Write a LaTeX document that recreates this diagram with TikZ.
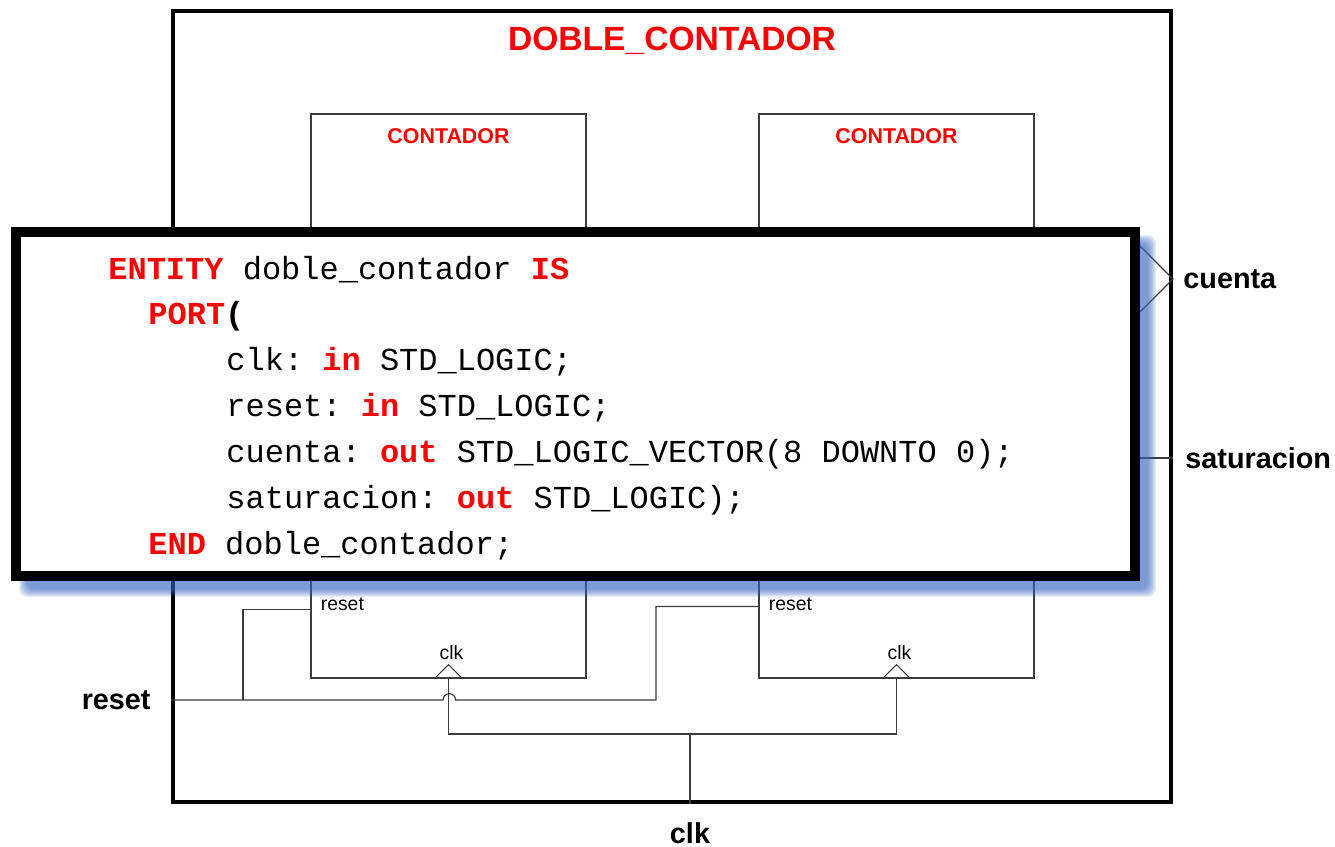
\documentclass[tikz,border=0pt]{standalone}
\usepackage{fontspec}
\setmainfont{Liberation Sans}
\setmonofont{Liberation Mono}
\usetikzlibrary{positioning,calc,fit}
\definecolor{shadowblue}{RGB}{55,101,193}
\definecolor{wiregray}{RGB}{60,60,60}
\newcommand{\kw}[1]{\textcolor{red}{\bfseries #1}}

\begin{document}
\begin{tikzpicture}[x=0.5pt,y=-0.5pt,
  wire/.style={draw=wiregray,line width=0.6pt},
  cnt/.style={draw=wiregray,line width=0.6pt,minimum width=137.5pt,minimum height=282pt,inner sep=0},
  cntlbl/.style={text=red,font=\bfseries\fontsize{10.7}{12}\selectfont,inner sep=0},
  pinlbl/.style={font=\fontsize{9.7}{11}\selectfont,inner sep=0},
  port/.style={font=\bfseries\fontsize{14.4}{16}\selectfont,inner sep=0},
  codeline/.style={anchor=base west,inner sep=0,font=\ttfamily\fontsize{16}{18}\selectfont}]
\useasboundingbox (0,0) rectangle (1335,847);

% entity box
\node[draw,line width=2pt,minimum width=499pt,minimum height=395.5pt,inner sep=0] (top) at (672,406.5) {};
\node[text=red,font=\bfseries\fontsize{16.8}{20}\selectfont,inner sep=0] (title) at (672,41) {DOBLE\_CONTADOR};

% the two counters
\node[cnt] (cntA) at (448.5,396) {};
\node[cnt] (cntB) at (896.5,396) {};
\foreach \c in {cntA,cntB}{
  \node[cntlbl] at ($(\c.north)+(0,23)$) {CONTADOR};
  \node[pinlbl,anchor=west] at ($(\c.north west)+(10,491)$) {reset};
  \node[pinlbl] at ($(\c.south)+(3,-26)$) {clk};
  \draw[wire] ($(\c.south)+(-14,0)$) -- ($(\c.south)+(0,-14)$) -- ($(\c.south)+(14,0)$);
}

% ports
\coordinate (rstA) at ($(cntA.north west)+(0,496)$);
\coordinate (rstB) at ($(cntB.north west)+(0,493)$);
\coordinate (rstin) at (top.west |- 0,700);
\coordinate (rstfork) at (243,700);
\coordinate (hop) at (443,700);
\coordinate (clkin) at (top.south -| 690,0);
\coordinate (clkfork) at (690,734);
\coordinate (cuentaout) at (top.east |- 0,279);
\coordinate (satout) at (top.east |- 0,458);

% reset net
\draw[wire] (rstin) -- (hop) arc[start angle=180,end angle=0,radius=3.15pt] -- (656,700) |- (rstB);
\draw[wire] (rstfork) |- (rstA);
% clk net
\draw[wire] (clkin) -- (clkfork);
\draw[wire] (cntA.south) |- (clkfork) -| (cntB.south);
% outputs
\draw[wire] ($(cuentaout)+(-40,-40)$) -- (cuentaout) -- ($(cuentaout)+(-40,40)$);
\draw[wire] ($(satout)+(-40,0)$) -- (satout);

\node[port,left=10pt of rstin] {reset};
\node[port,below=9pt of clkin] {clk};
\node[port,right=5pt of cuentaout] {cuenta};
\node[port,right=6pt of satout] {saturacion};

% code box with blurred shadow
\coordinate (codeNW) at (16,232);
\coordinate (codeSE) at (1135,576);
\foreach \r in {0,...,8}
  \fill[shadowblue,opacity=.11,rounded corners=4pt] ($(codeNW)+(11-\r,11-\r)$) rectangle ($(codeSE)+(13+\r,13+\r)$);
\node[draw,line width=5pt,fill=white,inner sep=0,fit=(codeNW)(codeSE)] (code) {};

\node[codeline] (lnA) at (108,279) {\kw{ENTITY} doble\_contador \kw{IS}};
\node[codeline] (lnB) at (148,324) {\kw{PORT}\textbf{(}};
\node[codeline] (lnC) at (226,370) {clk: \kw{in} STD\_LOGIC;};
\node[codeline] (lnD) at (226,416) {reset: \kw{in} STD\_LOGIC;};
\node[codeline] (lnE) at (226,462) {cuenta: \kw{out} STD\_LOGIC\_VECTOR(8 DOWNTO 0);};
\node[codeline] (lnF) at (226,508) {saturacion: \kw{out} STD\_LOGIC);};
\node[codeline] (lnG) at (148,554) {\kw{END} doble\_contador;};
\end{tikzpicture}
\end{document}
